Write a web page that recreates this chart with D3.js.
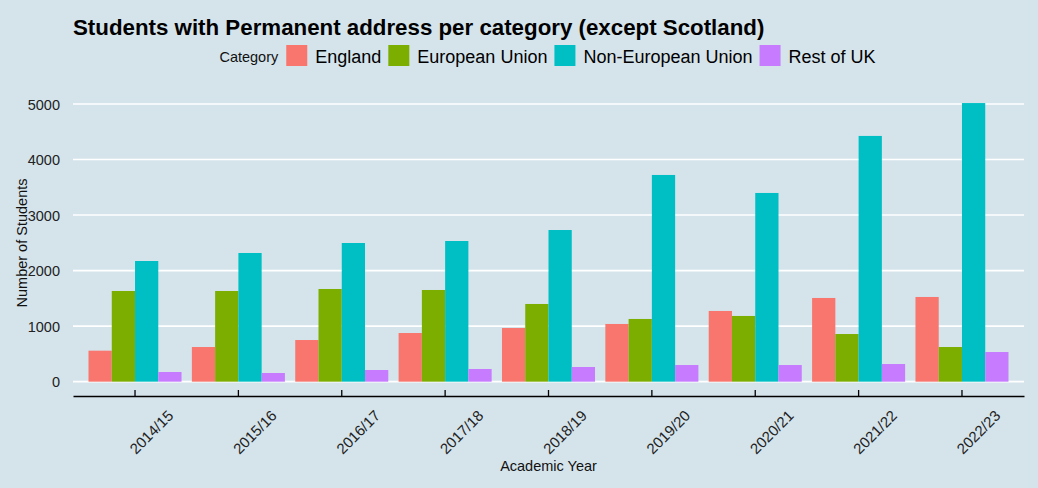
<!DOCTYPE html>
<html>
<head>
<meta charset="utf-8">
<script src="https://cdn.jsdelivr.net/npm/d3@7"></script>
<style>
  body { margin: 0; background: #d5e4eb; }
  svg { display: block; font-family: "Liberation Sans", Arial, sans-serif; }
</style>
</head>
<body>
<div id="chart"></div>
<script>
var years = ["2014/15", "2015/16", "2016/17", "2017/18", "2018/19", "2019/20", "2020/21", "2021/22", "2022/23"];
var categories = ["England", "European Union", "Non-European Union", "Rest of UK"];
var england = [558, 624, 750, 876, 966, 1039, 1273, 1507, 1525];
var europeanUnion = [1633, 1633, 1669, 1651, 1399, 1129, 1183, 858, 624];
var nonEuropeanUnion = [2173, 2317, 2497, 2533, 2731, 3722, 3398, 4425, 5017];
var restOfUK = [174, 156, 210, 228, 264, 300, 300, 318, 534];
var yTicks = [0, 1000, 2000, 3000, 4000, 5000];
var colours = ["#F8766D", "#7CAE00", "#00BFC4", "#C77CFF"];

var series = [england, europeanUnion, nonEuropeanUnion, restOfUK];

var width = 1038, height = 488;
var panel = {left: 73, right: 1024, top: 89, bottom: 396};

var svg = d3.select("#chart").append("svg")
    .attr("width", width)
    .attr("height", height);

svg.append("rect")
    .attr("width", width)
    .attr("height", height)
    .attr("fill", "#d5e4eb");

// scales: outer padding makes the first group centre sit 0.6 steps in, like ggplot
var x = d3.scaleBand()
    .domain(years)
    .range([panel.left, panel.right])
    .paddingInner(0.1)
    .paddingOuter(0.15);

var xInner = d3.scaleBand()
    .domain(categories)
    .range([0, x.bandwidth()]);

var y = d3.scaleLinear()
    .domain([0, 5000])
    .range([381.67, 104]);

var colour = d3.scaleOrdinal().domain(categories).range(colours);

// grid lines
svg.append("g")
    .selectAll("line")
    .data(yTicks)
    .join("line")
    .attr("x1", panel.left)
    .attr("x2", panel.right)
    .attr("y1", function (d) { return y(d); })
    .attr("y2", function (d) { return y(d); })
    .attr("stroke", "#ffffff")
    .attr("stroke-width", 1.6);

// bars
var rows = [];
years.forEach(function (yr, i) {
    categories.forEach(function (c, j) {
        rows.push({year: yr, category: c, value: series[j][i]});
    });
});

svg.append("g")
    .selectAll("rect")
    .data(rows)
    .join("rect")
    .attr("x", function (d) { return x(d.year) + xInner(d.category); })
    .attr("width", xInner.bandwidth())
    .attr("y", function (d) { return y(d.value); })
    .attr("height", function (d) { return y(0) - y(d.value); })
    .attr("fill", function (d) { return colour(d.category); });

// y axis labels
var yAxis = d3.axisLeft(y).tickValues(yTicks).tickFormat(d3.format("d")).tickSize(0).tickPadding(13);
var gy = svg.append("g")
    .attr("transform", "translate(" + panel.left + ",0)")
    .call(yAxis);
gy.select(".domain").remove();
gy.selectAll("text")
    .attr("font-size", "14.5px")
    .attr("fill", "#222")
    .attr("font-family", "Liberation Sans, Arial, sans-serif")
    .attr("dy", "0.36em");

// x axis
var xAxis = d3.axisBottom(x).tickSizeInner(-6).tickSizeOuter(0).tickFormat("");
var gx = svg.append("g")
    .attr("transform", "translate(0," + panel.bottom + ")")
    .call(xAxis);
gx.select(".domain").attr("stroke", "#000").attr("stroke-width", 1.3);
gx.selectAll(".tick line").attr("stroke", "#000").attr("stroke-width", 1.3);

svg.append("g")
    .selectAll("text")
    .data(years)
    .join("text")
    .attr("transform", function (d) {
        return "translate(" + (x(d) + x.bandwidth() / 2 + 1) + ",455) rotate(-45)";
    })
    .attr("font-size", "15px")
    .attr("fill", "#222")
    .text(function (d) { return d; });

// axis titles
svg.append("text")
    .attr("x", (panel.left + panel.right) / 2)
    .attr("y", 471)
    .attr("text-anchor", "middle")
    .attr("font-size", "14.5px")
    .attr("fill", "#111")
    .text("Academic Year");

svg.append("text")
    .attr("transform", "translate(27,243) rotate(-90)")
    .attr("text-anchor", "middle")
    .attr("font-size", "14.5px")
    .attr("fill", "#111")
    .text("Number of Students");

// title
svg.append("text")
    .attr("x", panel.left)
    .attr("y", 35)
    .attr("font-size", "22.3px")
    .attr("font-weight", "bold")
    .attr("fill", "#000")
    .text("Students with Permanent address per category (except Scotland)");

// legend, laid out from measured text widths and centred on the panel
var legend = svg.append("g");
var lx = 0;
var legendTitle = legend.append("text")
    .attr("x", 0)
    .attr("y", 62)
    .attr("font-size", "14.5px")
    .attr("fill", "#111")
    .text("Category");
lx = legendTitle.node().getComputedTextLength() + 8;

categories.forEach(function (c) {
    legend.append("rect")
        .attr("x", lx)
        .attr("y", 45)
        .attr("width", 21)
        .attr("height", 21)
        .attr("fill", colour(c));
    var t = legend.append("text")
        .attr("x", lx + 29)
        .attr("y", 63)
        .attr("font-size", "18px")
        .attr("fill", "#000")
        .text(c);
    lx += 29 + t.node().getComputedTextLength() + 7;
});
lx -= 7;
legend.attr("transform", "translate(" + ((panel.left + panel.right) / 2 - lx / 2 - 1) + ",0)");
</script>
</body>
</html>
